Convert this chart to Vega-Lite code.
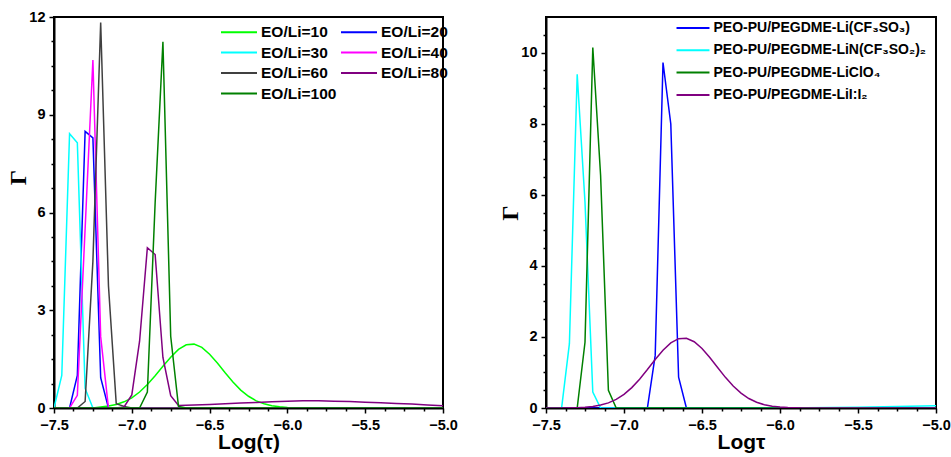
{
  "$schema": "https://vega.github.io/schema/vega-lite/v6.json",
  "background": "white",
  "padding": {"left": 5, "top": 8, "right": 0, "bottom": 0},
  "spacing": 38,
  "config": {
    "view": {"stroke": "black", "strokeWidth": 2},
    "axis": {
      "grid": false,
      "domainColor": "black",
      "domainWidth": 2,
      "tickColor": "black",
      "tickWidth": 1.5,
      "labelFont": "Liberation Sans",
      "labelFontWeight": "bold",
      "labelFontSize": 14.5,
      "labelColor": "black",
      "titleColor": "black",
      "titleFont": "Liberation Sans",
      "titleFontWeight": "bold",
      "titleFontSize": 21,
      "labelOverlap": false,
      "labelFlush": false
    },
    "legend": {
      "labelFont": "Liberation Sans",
      "labelFontWeight": "bold",
      "labelColor": "black",
      "labelLimit": 0,
      "symbolStrokeWidth": 2
    }
  },
  "datasets": {
    "left": [
      {"s":"EO/Li=10","x":-7.5,"g":0},{"s":"EO/Li=10","x":-7.25,"g":0},{"s":"EO/Li=10","x":-7.2,"g":0.03},{"s":"EO/Li=10","x":-7.15,"g":0.06},{"s":"EO/Li=10","x":-7.1,"g":0.11},{"s":"EO/Li=10","x":-7.05,"g":0.19},{"s":"EO/Li=10","x":-7.0,"g":0.31},{"s":"EO/Li=10","x":-6.95,"g":0.49},{"s":"EO/Li=10","x":-6.9,"g":0.72},{"s":"EO/Li=10","x":-6.85,"g":0.99},{"s":"EO/Li=10","x":-6.8,"g":1.28},{"s":"EO/Li=10","x":-6.75,"g":1.56},{"s":"EO/Li=10","x":-6.7,"g":1.8},{"s":"EO/Li=10","x":-6.65,"g":1.94},{"s":"EO/Li=10","x":-6.6,"g":1.96},{"s":"EO/Li=10","x":-6.55,"g":1.86},{"s":"EO/Li=10","x":-6.5,"g":1.65},{"s":"EO/Li=10","x":-6.45,"g":1.38},{"s":"EO/Li=10","x":-6.4,"g":1.08},{"s":"EO/Li=10","x":-6.35,"g":0.8},{"s":"EO/Li=10","x":-6.3,"g":0.55},{"s":"EO/Li=10","x":-6.25,"g":0.36},{"s":"EO/Li=10","x":-6.2,"g":0.22},{"s":"EO/Li=10","x":-6.15,"g":0.13},{"s":"EO/Li=10","x":-6.1,"g":0.07},{"s":"EO/Li=10","x":-6.05,"g":0.035},{"s":"EO/Li=10","x":-6.0,"g":0.016},{"s":"EO/Li=10","x":-5.95,"g":0.007},{"s":"EO/Li=10","x":-5.9,"g":0.003},{"s":"EO/Li=10","x":-5.85,"g":0},{"s":"EO/Li=10","x":-5.0,"g":0},
      {"s":"EO/Li=20","x":-7.5,"g":0},{"s":"EO/Li=20","x":-7.4,"g":0},{"s":"EO/Li=20","x":-7.35,"g":1.0},{"s":"EO/Li=20","x":-7.3,"g":8.49},{"s":"EO/Li=20","x":-7.25,"g":8.29},{"s":"EO/Li=20","x":-7.2,"g":0.93},{"s":"EO/Li=20","x":-7.15,"g":0},{"s":"EO/Li=20","x":-5.0,"g":0},
      {"s":"EO/Li=30","x":-7.5,"g":0},{"s":"EO/Li=30","x":-7.45,"g":1.0},{"s":"EO/Li=30","x":-7.4,"g":8.42},{"s":"EO/Li=30","x":-7.35,"g":8.14},{"s":"EO/Li=30","x":-7.3,"g":0.6},{"s":"EO/Li=30","x":-7.25,"g":0},{"s":"EO/Li=30","x":-5.0,"g":0},
      {"s":"EO/Li=40","x":-7.5,"g":0},{"s":"EO/Li=40","x":-7.4,"g":0},{"s":"EO/Li=40","x":-7.35,"g":0.39},{"s":"EO/Li=40","x":-7.3,"g":5.5},{"s":"EO/Li=40","x":-7.25,"g":10.68},{"s":"EO/Li=40","x":-7.2,"g":2.19},{"s":"EO/Li=40","x":-7.15,"g":0},{"s":"EO/Li=40","x":-5.0,"g":0},
      {"s":"EO/Li=60","x":-7.5,"g":0},{"s":"EO/Li=60","x":-7.35,"g":0},{"s":"EO/Li=60","x":-7.3,"g":0.2},{"s":"EO/Li=60","x":-7.25,"g":4.5},{"s":"EO/Li=60","x":-7.2,"g":11.83},{"s":"EO/Li=60","x":-7.15,"g":3.75},{"s":"EO/Li=60","x":-7.1,"g":0.13},{"s":"EO/Li=60","x":-7.05,"g":0.05},{"s":"EO/Li=60","x":-7.0,"g":0},{"s":"EO/Li=60","x":-5.0,"g":0},
      {"s":"EO/Li=80","x":-7.5,"g":0},{"s":"EO/Li=80","x":-7.1,"g":0},{"s":"EO/Li=80","x":-7.05,"g":0.03},{"s":"EO/Li=80","x":-7.0,"g":0.4},{"s":"EO/Li=80","x":-6.95,"g":2.05},{"s":"EO/Li=80","x":-6.9,"g":4.92},{"s":"EO/Li=80","x":-6.85,"g":4.71},{"s":"EO/Li=80","x":-6.8,"g":1.55},{"s":"EO/Li=80","x":-6.75,"g":0.38},{"s":"EO/Li=80","x":-6.7,"g":0.08},{"s":"EO/Li=80","x":-6.6,"g":0.09},{"s":"EO/Li=80","x":-6.5,"g":0.11},{"s":"EO/Li=80","x":-6.4,"g":0.13},{"s":"EO/Li=80","x":-6.3,"g":0.15},{"s":"EO/Li=80","x":-6.2,"g":0.17},{"s":"EO/Li=80","x":-6.1,"g":0.19},{"s":"EO/Li=80","x":-6.0,"g":0.21},{"s":"EO/Li=80","x":-5.9,"g":0.22},{"s":"EO/Li=80","x":-5.8,"g":0.22},{"s":"EO/Li=80","x":-5.7,"g":0.21},{"s":"EO/Li=80","x":-5.6,"g":0.2},{"s":"EO/Li=80","x":-5.5,"g":0.18},{"s":"EO/Li=80","x":-5.4,"g":0.16},{"s":"EO/Li=80","x":-5.3,"g":0.14},{"s":"EO/Li=80","x":-5.2,"g":0.12},{"s":"EO/Li=80","x":-5.1,"g":0.09},{"s":"EO/Li=80","x":-5.0,"g":0.07},
      {"s":"EO/Li=100","x":-7.5,"g":0},{"s":"EO/Li=100","x":-6.95,"g":0},{"s":"EO/Li=100","x":-6.9,"g":0.49},{"s":"EO/Li=100","x":-6.85,"g":6.3},{"s":"EO/Li=100","x":-6.8,"g":11.24},{"s":"EO/Li=100","x":-6.75,"g":2.2},{"s":"EO/Li=100","x":-6.7,"g":0.05},{"s":"EO/Li=100","x":-6.65,"g":0},{"s":"EO/Li=100","x":-5.0,"g":0}
    ],
    "right": [
      {"s":"PEO-PU/PEGDME-Li(CF₃SO₃)","x":-7.5,"g":0},{"s":"PEO-PU/PEGDME-Li(CF₃SO₃)","x":-6.85,"g":0},{"s":"PEO-PU/PEGDME-Li(CF₃SO₃)","x":-6.8,"g":1.48},{"s":"PEO-PU/PEGDME-Li(CF₃SO₃)","x":-6.75,"g":9.72},{"s":"PEO-PU/PEGDME-Li(CF₃SO₃)","x":-6.7,"g":7.99},{"s":"PEO-PU/PEGDME-Li(CF₃SO₃)","x":-6.65,"g":0.87},{"s":"PEO-PU/PEGDME-Li(CF₃SO₃)","x":-6.6,"g":0},{"s":"PEO-PU/PEGDME-Li(CF₃SO₃)","x":-5.0,"g":0},
      {"s":"PEO-PU/PEGDME-LiN(CF₃SO₂)₂","x":-7.5,"g":0},{"s":"PEO-PU/PEGDME-LiN(CF₃SO₂)₂","x":-7.4,"g":0},{"s":"PEO-PU/PEGDME-LiN(CF₃SO₂)₂","x":-7.35,"g":1.81},{"s":"PEO-PU/PEGDME-LiN(CF₃SO₂)₂","x":-7.3,"g":9.39},{"s":"PEO-PU/PEGDME-LiN(CF₃SO₂)₂","x":-7.25,"g":5.79},{"s":"PEO-PU/PEGDME-LiN(CF₃SO₂)₂","x":-7.2,"g":0.45},{"s":"PEO-PU/PEGDME-LiN(CF₃SO₂)₂","x":-7.15,"g":0},{"s":"PEO-PU/PEGDME-LiN(CF₃SO₂)₂","x":-6.0,"g":0},{"s":"PEO-PU/PEGDME-LiN(CF₃SO₂)₂","x":-5.5,"g":0.02},{"s":"PEO-PU/PEGDME-LiN(CF₃SO₂)₂","x":-5.0,"g":0.06},
      {"s":"PEO-PU/PEGDME-LiClO₄","x":-7.5,"g":0},{"s":"PEO-PU/PEGDME-LiClO₄","x":-7.3,"g":0},{"s":"PEO-PU/PEGDME-LiClO₄","x":-7.25,"g":1.85},{"s":"PEO-PU/PEGDME-LiClO₄","x":-7.2,"g":10.14},{"s":"PEO-PU/PEGDME-LiClO₄","x":-7.15,"g":6.54},{"s":"PEO-PU/PEGDME-LiClO₄","x":-7.1,"g":0.5},{"s":"PEO-PU/PEGDME-LiClO₄","x":-7.05,"g":0},{"s":"PEO-PU/PEGDME-LiClO₄","x":-5.0,"g":0},
      {"s":"PEO-PU/PEGDME-LiI:I₂","x":-7.5,"g":0},{"s":"PEO-PU/PEGDME-LiI:I₂","x":-7.4,"g":0.002},{"s":"PEO-PU/PEGDME-LiI:I₂","x":-7.35,"g":0.005},{"s":"PEO-PU/PEGDME-LiI:I₂","x":-7.3,"g":0.01},{"s":"PEO-PU/PEGDME-LiI:I₂","x":-7.25,"g":0.022},{"s":"PEO-PU/PEGDME-LiI:I₂","x":-7.2,"g":0.043},{"s":"PEO-PU/PEGDME-LiI:I₂","x":-7.15,"g":0.082},{"s":"PEO-PU/PEGDME-LiI:I₂","x":-7.1,"g":0.145},{"s":"PEO-PU/PEGDME-LiI:I₂","x":-7.05,"g":0.242},{"s":"PEO-PU/PEGDME-LiI:I₂","x":-7.0,"g":0.383},{"s":"PEO-PU/PEGDME-LiI:I₂","x":-6.95,"g":0.573},{"s":"PEO-PU/PEGDME-LiI:I₂","x":-6.9,"g":0.81},{"s":"PEO-PU/PEGDME-LiI:I₂","x":-6.85,"g":1.081},{"s":"PEO-PU/PEGDME-LiI:I₂","x":-6.8,"g":1.365},{"s":"PEO-PU/PEGDME-LiI:I₂","x":-6.75,"g":1.627},{"s":"PEO-PU/PEGDME-LiI:I₂","x":-6.7,"g":1.832},{"s":"PEO-PU/PEGDME-LiI:I₂","x":-6.65,"g":1.95},{"s":"PEO-PU/PEGDME-LiI:I₂","x":-6.6,"g":1.961},{"s":"PEO-PU/PEGDME-LiI:I₂","x":-6.55,"g":1.864},{"s":"PEO-PU/PEGDME-LiI:I₂","x":-6.5,"g":1.673},{"s":"PEO-PU/PEGDME-LiI:I₂","x":-6.45,"g":1.419},{"s":"PEO-PU/PEGDME-LiI:I₂","x":-6.4,"g":1.138},{"s":"PEO-PU/PEGDME-LiI:I₂","x":-6.35,"g":0.862},{"s":"PEO-PU/PEGDME-LiI:I₂","x":-6.3,"g":0.617},{"s":"PEO-PU/PEGDME-LiI:I₂","x":-6.25,"g":0.417},{"s":"PEO-PU/PEGDME-LiI:I₂","x":-6.2,"g":0.267},{"s":"PEO-PU/PEGDME-LiI:I₂","x":-6.15,"g":0.161},{"s":"PEO-PU/PEGDME-LiI:I₂","x":-6.1,"g":0.092},{"s":"PEO-PU/PEGDME-LiI:I₂","x":-6.05,"g":0.05},{"s":"PEO-PU/PEGDME-LiI:I₂","x":-6.0,"g":0.025},{"s":"PEO-PU/PEGDME-LiI:I₂","x":-5.95,"g":0.012},{"s":"PEO-PU/PEGDME-LiI:I₂","x":-5.9,"g":0.005},{"s":"PEO-PU/PEGDME-LiI:I₂","x":-5.85,"g":0.002},{"s":"PEO-PU/PEGDME-LiI:I₂","x":-5.8,"g":0},{"s":"PEO-PU/PEGDME-LiI:I₂","x":-5.0,"g":0}
    ]
  },
  "hconcat": [
    {
      "width": 389,
      "height": 391,
      "data": {"name": "left"},
      "mark": {"type": "line", "strokeWidth": 1.5, "clip": true},
      "encoding": {
        "x": {
          "field": "x", "type": "quantitative",
          "scale": {"domain": [-7.5, -5.0], "nice": false, "zero": false},
          "axis": {
            "title": "Log(τ)",
            "values": [-7.5,-7.375,-7.25,-7.125,-7.0,-6.875,-6.75,-6.625,-6.5,-6.375,-6.25,-6.125,-6.0,-5.875,-5.75,-5.625,-5.5,-5.375,-5.25,-5.125,-5.0],
            "labelExpr": "abs(datum.value*2 - round(datum.value*2)) < 0.001 ? format(datum.value, '.1f') : ''",
            "tickSize": {"condition": {"test": "abs(datum.value*2 - round(datum.value*2)) < 0.001", "value": 5}, "value": 3},
            "labelPadding": 5,
            "titlePadding": 0
          }
        },
        "y": {
          "field": "g", "type": "quantitative",
          "scale": {"domain": [0, 12], "nice": false, "zero": true},
          "axis": {
            "title": "Γ",
            "titleFont": "Liberation Serif",
            "titleFontSize": 24,
            "titleY": 160,
            "values": [0,0.75,1.5,2.25,3,3.75,4.5,5.25,6,6.75,7.5,8.25,9,9.75,10.5,11.25,12],
            "labelExpr": "abs(datum.value/3 - round(datum.value/3)) < 0.001 ? format(datum.value, 'd') : ''",
            "tickSize": {"condition": {"test": "abs(datum.value/3 - round(datum.value/3)) < 0.001", "value": 5}, "value": 3},
            "labelPadding": 4,
            "titlePadding": -2
          }
        },
        "color": {
          "field": "s", "type": "nominal",
          "scale": {
            "domain": ["EO/Li=10","EO/Li=30","EO/Li=60","EO/Li=100","EO/Li=20","EO/Li=40","EO/Li=80"],
            "range": ["#00ff00","#00ffff","#404040","#008000","#0000ff","#ff00ff","#800080"]
          },
          "legend": {
            "title": null,
            "orient": "none",
            "legendX": 176,
            "legendY": 6,
            "columns": 2,
            "symbolType": "M-2.25,0H2.25",
            "symbolSize": 256,
            "labelOffset": 13,
            "labelFontSize": 15.5,
            "rowPadding": 2.5,
            "columnPadding": 0
          }
        }
      }
    },
    {
      "width": 390,
      "height": 391,
      "data": {"name": "right"},
      "mark": {"type": "line", "strokeWidth": 1.5, "clip": true},
      "encoding": {
        "x": {
          "field": "x", "type": "quantitative",
          "scale": {"domain": [-7.5, -5.0], "nice": false, "zero": false},
          "axis": {
            "title": "Logτ",
            "values": [-7.5,-7.375,-7.25,-7.125,-7.0,-6.875,-6.75,-6.625,-6.5,-6.375,-6.25,-6.125,-6.0,-5.875,-5.75,-5.625,-5.5,-5.375,-5.25,-5.125,-5.0],
            "labelExpr": "abs(datum.value*2 - round(datum.value*2)) < 0.001 ? format(datum.value, '.1f') : ''",
            "tickSize": {"condition": {"test": "abs(datum.value*2 - round(datum.value*2)) < 0.001", "value": 5}, "value": 3},
            "labelPadding": 5,
            "titlePadding": 0
          }
        },
        "y": {
          "field": "g", "type": "quantitative",
          "scale": {"domain": [0, 11], "nice": false, "zero": true},
          "axis": {
            "title": "Γ",
            "titleFont": "Liberation Serif",
            "titleFontSize": 24,
            "values": [0,0.5,1,1.5,2,2.5,3,3.5,4,4.5,5,5.5,6,6.5,7,7.5,8,8.5,9,9.5,10,10.5],
            "labelExpr": "abs(datum.value/2 - round(datum.value/2)) < 0.001 ? format(datum.value, 'd') : ''",
            "tickSize": {"condition": {"test": "abs(datum.value/2 - round(datum.value/2)) < 0.001", "value": 5}, "value": 3},
            "labelPadding": 4,
            "titlePadding": -2
          }
        },
        "color": {
          "field": "s", "type": "nominal",
          "scale": {
            "domain": ["PEO-PU/PEGDME-Li(CF₃SO₃)","PEO-PU/PEGDME-LiN(CF₃SO₂)₂","PEO-PU/PEGDME-LiClO₄","PEO-PU/PEGDME-LiI:I₂"],
            "range": ["#0000ff","#00ffff","#008000","#800080"]
          },
          "legend": {
            "title": null,
            "orient": "none",
            "legendX": 138,
            "legendY": 2,
            "symbolType": "M-2.06,0H2.06",
            "symbolSize": 256,
            "labelOffset": 11.5,
            "labelFontSize": 14,
            "rowPadding": 6.3
          }
        }
      }
    }
  ],
  "resolve": {"scale": {"color": "independent"}, "legend": {"color": "independent"}}
}
